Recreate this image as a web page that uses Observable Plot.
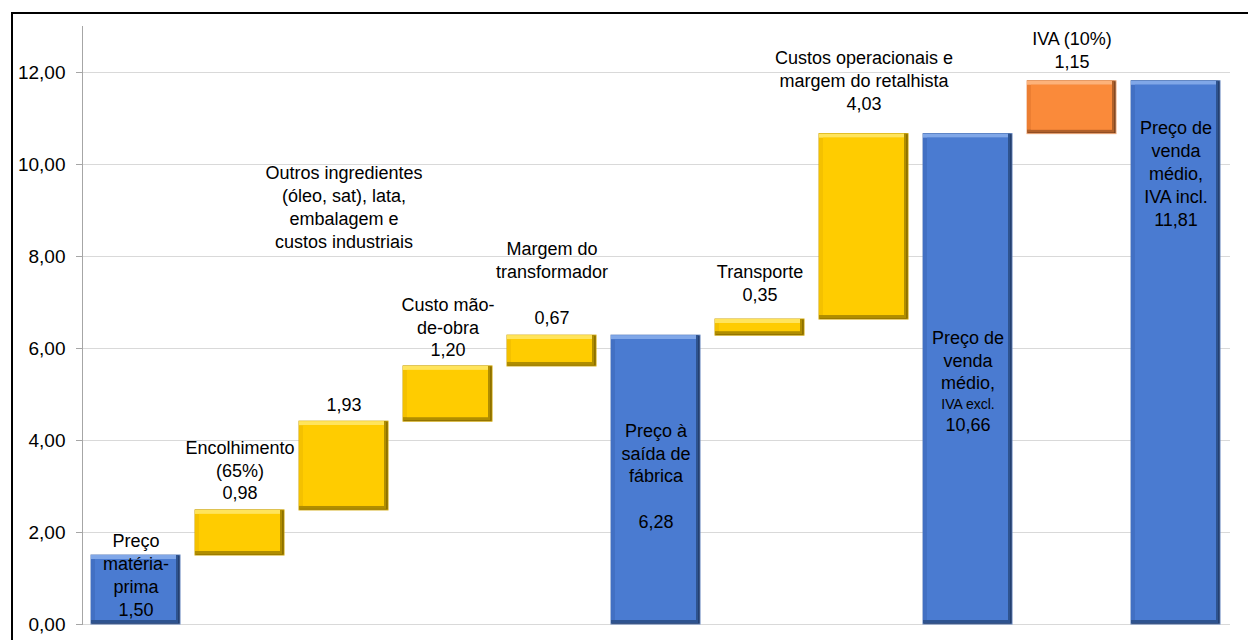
<!DOCTYPE html>
<html><head><meta charset="utf-8">
<script src="https://cdn.jsdelivr.net/npm/d3@7"></script>
<script src="https://cdn.jsdelivr.net/npm/@observablehq/plot@0.6"></script>
<style>
html,body{margin:0;padding:0;background:#fff;overflow:hidden;width:1248px;height:640px;}
#wrap{position:relative;width:1248px;height:640px;overflow:hidden;}
#border{position:absolute;left:11px;top:12px;width:1400px;height:800px;border:2px solid #000;box-sizing:border-box;pointer-events:none;}
#chart{position:absolute;left:0;top:0;}
</style></head><body>
<div id="wrap"><div id="chart"></div><div id="border"></div></div>
<script>
// ---- data ----
const categories = [
  "Preço matéria-prima", "Encolhimento (65%)", "Outros ingredientes", "Custo mão-de-obra",
  "Margem do transformador", "Preço à saída de fábrica", "Transporte",
  "Custos operacionais e margem do retalhista", "Preço de venda médio, IVA excl.",
  "IVA (10%)", "Preço de venda médio, IVA incl."
];
const values = [1.50, 0.98, 1.93, 1.20, 0.67, 6.28, 0.35, 4.03, 10.66, 1.15, 11.81];
const kinds = ["total", "step", "step", "step", "step", "total", "step", "step", "total", "tax", "total"];
const nameLabels = [
  "Preço\nmatéria-\nprima",
  "Encolhimento\n(65%)",
  "Outros ingredientes\n(óleo, sat), lata,\nembalagem e\ncustos industriais",
  "Custo mão-\nde-obra",
  "Margem do\ntransformador",
  "Preço à\nsaída de\nfábrica",
  "Transporte",
  "Custos operacionais e\nmargem do retalhista",
  "Preço de\nvenda\nmédio,",
  "IVA (10%)",
  "Preço de\nvenda\nmédio,\nIVA incl."
];
const noteLabels = ["", "", "", "", "", "", "", "", "IVA excl.", "", ""];
const yTicks = [0, 2, 4, 6, 8, 10, 12];

// ---- build ----
const fmt = v => v.toFixed(2).replace(".", ",");
let running = 0;
const rows = categories.map((cat, i) => {
  const v = values[i];
  let start, end;
  if (kinds[i] === "total") { start = 0; end = v; } else { start = running; end = running + v; }
  running = end;
  return {cat, i, kind: kinds[i], value: v, start, end, mid: (start + end) / 2, name: nameLabels[i], note: noteLabels[i], label: fmt(v)};
});

const palette = {
  total: {base: "#4A7BD1", light: "#80A7E8", side: "#4270C3", dark: "#2E538F", edge: "#1B2F52", line: "#5E80BC"},
  step:  {base: "#FFCC00", light: "#FFE45C", side: "#F4C100", dark: "#B08D00", edge: "#6A5400", line: "#CFA400"},
  tax:   {base: "#FA8A3A", light: "#FDB27A", side: "#EC7E32", dark: "#B0602A", edge: "#5C3218", line: "#EFA676"}
};
const col = k => d => palette[d.kind][k];

// label layout (code-side)
const labelSpecs = [];
function lab(i, text, at, anchor, dy, size = 18) { labelSpecs.push({i, text, at, anchor, dy, size}); }
const r = rows;
lab(0, r[0].name + "\n" + r[0].label, "zero", "bottom", -9);
lab(1, r[1].name + "\n" + r[1].label, "end", "bottom", -11);
lab(2, r[2].label, "end", "bottom", -11);
lab(2, r[2].name, "end", "bottom", -174);
lab(3, r[3].name + "\n" + r[3].label, "end", "bottom", -10);
lab(4, r[4].name + "\n\n" + r[4].label, "end", "bottom", -12);
lab(5, r[5].name + "\n\n" + r[5].label, "mid", "middle", -5);
lab(6, r[6].name + "\n" + r[6].label, "end", "bottom", -19);
lab(7, r[7].name + "\n" + r[7].label, "end", "bottom", -24);
lab(8, r[8].name, "mid", "middle", -20);
lab(8, r[8].note, "mid", "middle", 24, 14);
lab(8, r[8].label, "mid", "middle", 44);
lab(9, r[9].name + "\n" + r[9].label, "end", "bottom", -13);
lab(10, r[10].name + "\n" + r[10].label, "end", "top", 37);

const textMarks = labelSpecs.map(s => Plot.text([rows[s.i]], {
  x: "cat",
  y: d => s.at === "zero" ? 0 : s.at === "mid" ? d.mid : d.end,
  text: () => s.text,
  lineAnchor: s.anchor,
  lineHeight: 1.27,
  dy: s.dy,
  fontSize: s.size,
  fill: "#000"
}));

const chart = Plot.plot({
  width: 1248,
  height: 640,
  marginLeft: 82,
  marginRight: 18,
  marginTop: 26,
  marginBottom: 16,
  style: {fontFamily: "'Liberation Sans', Arial, sans-serif", fontSize: "18px", color: "#000", background: "transparent"},
  x: {domain: categories, paddingInner: 0.14, paddingOuter: 0.07, axis: null},
  y: {domain: [0, 13], axis: null},
  marks: [
    Plot.gridY(yTicks, {stroke: "#d9d9d9", strokeOpacity: 1}),
    Plot.frame({anchor: "left", stroke: "#a6a6a6"}),
    Plot.axisY({ticks: yTicks, tickFormat: fmt, tickSize: 6, tickPadding: 11, fontSize: 19, stroke: "#a6a6a6", fill: "#000"}),
    // bevelled bars
    Plot.barY(rows, {x: "cat", y1: "start", y2: "end", fill: col("edge"), stroke: col("line"), strokeWidth: 1}),
    Plot.barY(rows, {x: "cat", y1: "start", y2: "end", fill: col("dark"), insetRight: 1.5, insetBottom: 1}),
    Plot.barY(rows, {x: "cat", y1: "start", y2: "end", fill: col("side"), insetRight: 4, insetBottom: 4}),
    Plot.barY(rows, {x: "cat", y1: "end", y2: "end", fill: col("light"), insetBottom: -4, insetRight: 4}),
    Plot.barY(rows, {x: "cat", y1: "start", y2: "end", fill: col("base"), inset: 4}),
    ...textMarks
  ]
});
document.getElementById("chart").appendChild(chart);
</script>
</body></html>
